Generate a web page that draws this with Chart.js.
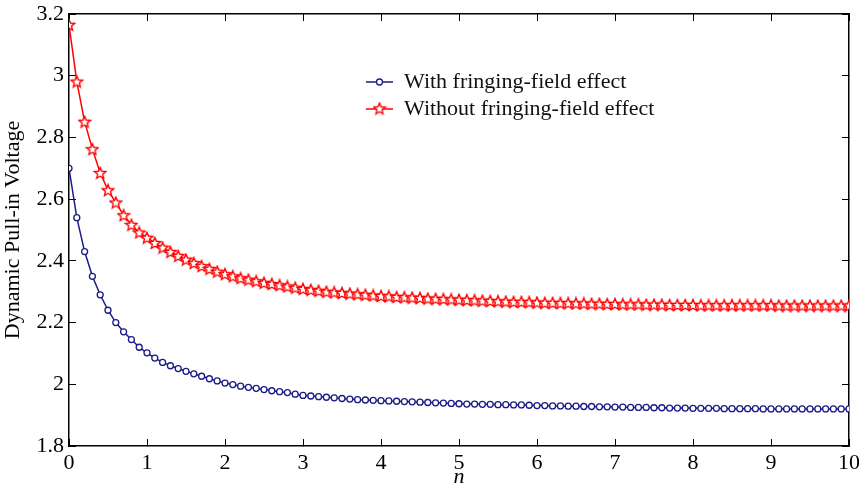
<!DOCTYPE html>
<html lang="en">
<head>
<meta charset="UTF-8">
<script src="https://cdn.jsdelivr.net/npm/chart.js"></script>
<title>Dynamic Pull-in Voltage</title>
<style>
  body { margin: 0; background: white; }
</style>
</head>
<body>
<canvas id="pullChart" width="859" height="490"></canvas>
<script>
// n values (x axis)
var nValues = [0,0.1,0.2,0.3,0.4,0.5,0.6,0.7,0.8,0.9,
  1,1.1,1.2,1.3,1.4,1.5,1.6,1.7,1.8,1.9,
  2,2.1,2.2,2.3,2.4,2.5,2.6,2.7,2.8,2.9,
  3,3.1,3.2,3.3,3.4,3.5,3.6,3.7,3.8,3.9,
  4,4.1,4.2,4.3,4.4,4.5,4.6,4.7,4.8,4.9,
  5,5.1,5.2,5.3,5.4,5.5,5.6,5.7,5.8,5.9,
  6,6.1,6.2,6.3,6.4,6.5,6.6,6.7,6.8,6.9,
  7,7.1,7.2,7.3,7.4,7.5,7.6,7.7,7.8,7.9,
  8,8.1,8.2,8.3,8.4,8.5,8.6,8.7,8.8,8.9,
  9,9.1,9.2,9.3,9.4,9.5,9.6,9.7,9.8,9.9,10];

var withFringing = [2.700,2.540,2.430,2.350,2.290,2.240,2.200,2.170,2.145,2.120,
  2.102,2.085,2.071,2.060,2.051,2.042,2.034,2.026,2.018,2.011,
  2.004,1.999,1.994,1.990,1.987,1.983,1.979,1.976,1.973,1.968,
  1.964,1.962,1.960,1.958,1.956,1.954,1.952,1.950,1.949,1.948,
  1.947,1.946,1.945,1.944,1.943,1.942,1.941,1.940,1.939,1.938,
  1.937,1.936,1.936,1.935,1.935,1.934,1.934,1.933,1.933,1.932,
  1.931,1.931,1.930,1.930,1.929,1.929,1.928,1.928,1.927,1.927,
  1.926,1.926,1.925,1.925,1.925,1.924,1.924,1.923,1.923,1.923,
  1.922,1.922,1.922,1.922,1.921,1.921,1.921,1.921,1.921,1.920,
  1.920,1.920,1.920,1.920,1.920,1.920,1.920,1.920,1.920,1.920,1.920];

var withoutFringing = [3.165,2.981,2.851,2.762,2.685,2.629,2.589,2.548,2.517,2.492,
  2.475,2.458,2.443,2.429,2.416,2.404,2.393,2.383,2.374,2.365,
  2.357,2.350,2.344,2.339,2.334,2.329,2.325,2.321,2.317,2.313,
  2.309,2.306,2.303,2.300,2.298,2.296,2.294,2.292,2.290,2.288,
  2.286,2.285,2.283,2.282,2.281,2.280,2.278,2.277,2.276,2.275,
  2.274,2.273,2.272,2.271,2.270,2.269,2.268,2.267,2.267,2.266,
  2.265,2.264,2.264,2.263,2.263,2.262,2.262,2.261,2.261,2.260,
  2.260,2.259,2.259,2.259,2.258,2.258,2.258,2.257,2.257,2.257,
  2.257,2.256,2.256,2.256,2.256,2.256,2.256,2.256,2.256,2.256,
  2.256,2.255,2.255,2.255,2.255,2.255,2.255,2.255,2.255,2.255,2.255];

var seriesNames = ['With fringing-field effect', 'Without fringing-field effect'];

var BLUE = '#1b1b86';
var RED = '#ff0000';
var FONT = "'Liberation Serif', 'Times New Roman', serif";
var FS = 22;

// five-point star marker
function makeStar(size, color) {
  var c = document.createElement('canvas');
  c.width = size; c.height = size;
  var g = c.getContext('2d');
  var cx = size / 2, cy = size / 2 + 0.5, ro = size / 2 - 1, ri = ro * 0.45;
  g.beginPath();
  for (var k = 0; k < 10; k++) {
    var r = k % 2 === 0 ? ro : ri;
    var a = -Math.PI / 2 + k * Math.PI / 5;
    var px = cx + r * Math.cos(a), py = cy + r * Math.sin(a);
    if (k === 0) g.moveTo(px, py); else g.lineTo(px, py);
  }
  g.closePath();
  g.fillStyle = 'white';
  g.fill();
  g.lineWidth = 1.4;
  g.strokeStyle = color;
  g.stroke();
  return c;
}
var starImg = makeStar(14, RED);

function toPoints(ys) {
  return nValues.map(function(n, i) { return {x: n, y: ys[i]}; });
}

var LEG_X = 361, LEG_Y = 66, LEG_PAD = 5, LEG_BOX = 27;

var legendPlace = {
  id: 'legendPlace',
  afterLayout: function(chart) {
    chart.legend.left = LEG_X;
    chart.legend.top = LEG_Y;
  },
  afterDraw: function(chart) {
    var ctx = chart.ctx;
    var cx = LEG_X + LEG_PAD + LEG_BOX / 2;
    var cy0 = LEG_Y + LEG_PAD + FS / 2;
    ctx.save();
    ctx.beginPath();
    ctx.arc(cx, cy0, 3, 0, Math.PI * 2);
    ctx.fillStyle = 'white';
    ctx.fill();
    ctx.lineWidth = 1.3;
    ctx.strokeStyle = BLUE;
    ctx.stroke();
    var cy1 = cy0 + FS + LEG_PAD;
    ctx.drawImage(starImg, cx - 7, cy1 - 7.5);
    ctx.restore();
  }
};

function boxAxis(pos, min, max, step) {
  return {
    type: 'linear', position: pos, min: min, max: max,
    ticks: { display: false, stepSize: step, padding: 0 },
    grid: { drawOnChartArea: false, drawTicks: true, tickLength: -7, color: '#000', lineWidth: 1 },
    border: { display: true, color: '#000', width: 1.5 },
    afterFit: function(s) {
      if (pos === 'top') s.height = 0; else s.width = 0;
      s.paddingLeft = s.paddingRight = s.paddingTop = s.paddingBottom = 0;
    }
  };
}

var ctx = document.getElementById('pullChart').getContext('2d');
new Chart(ctx, {
  type: 'line',
  data: {
    datasets: [{
      label: seriesNames[0],
      data: toPoints(withFringing),
      borderColor: BLUE,
      backgroundColor: BLUE,
      borderWidth: 1.5,
      pointStyle: 'circle',
      pointRadius: 3,
      pointBorderWidth: 1.3,
      pointBackgroundColor: 'white',
      pointBorderColor: BLUE,
      tension: 0
    }, {
      label: seriesNames[1],
      data: toPoints(withoutFringing),
      borderColor: RED,
      backgroundColor: RED,
      borderWidth: 1.5,
      pointStyle: starImg,
      tension: 0
    }]
  },
  options: {
    responsive: false,
    animation: false,
    layout: { padding: 0 },
    plugins: {
      tooltip: { enabled: false },
      legend: {
        display: true,
        position: 'chartArea',
        align: 'start',
        labels: {
          font: { family: FONT, size: FS },
          color: '#111',
          boxWidth: LEG_BOX,
          boxHeight: 0,
          padding: LEG_PAD
        }
      }
    },
    scales: {
      x: {
        type: 'linear', position: 'bottom', min: 0, max: 10,
        ticks: { stepSize: 1, color: '#000', padding: 11, maxRotation: 0,
          font: { family: FONT, size: FS } },
        grid: { drawOnChartArea: false, drawTicks: true, tickLength: -7, color: '#000', lineWidth: 1 },
        border: { display: true, color: '#000', width: 1.5 },
        title: { display: true, text: 'n', color: '#000', padding: 0,
          font: { family: FONT, size: FS, style: 'italic' } },
        afterFit: function(s) { s.height = 44; s.paddingRight = 10; s.paddingLeft = 0; }
      },
      x2: boxAxis('top', 0, 10, 1),
      y: {
        type: 'linear', position: 'left', min: 1.8, max: 3.2,
        ticks: { stepSize: 0.2, color: '#000', padding: 12,
          font: { family: FONT, size: FS },
          callback: function(v) { return String(Math.round(v * 10) / 10); } },
        grid: { drawOnChartArea: false, drawTicks: true, tickLength: -7, color: '#000', lineWidth: 1 },
        border: { display: true, color: '#000', width: 1.5 },
        title: { display: true, text: 'Dynamic Pull-in Voltage', color: '#000', padding: 0,
          font: { family: FONT, size: FS } },
        afterFit: function(s) { s.width = 69; s.paddingTop = 14; s.paddingBottom = 0; }
      },
      y2: boxAxis('right', 1.8, 3.2, 0.2)
    }
  },
  plugins: [legendPlace]
});
</script>
</body>
</html>
